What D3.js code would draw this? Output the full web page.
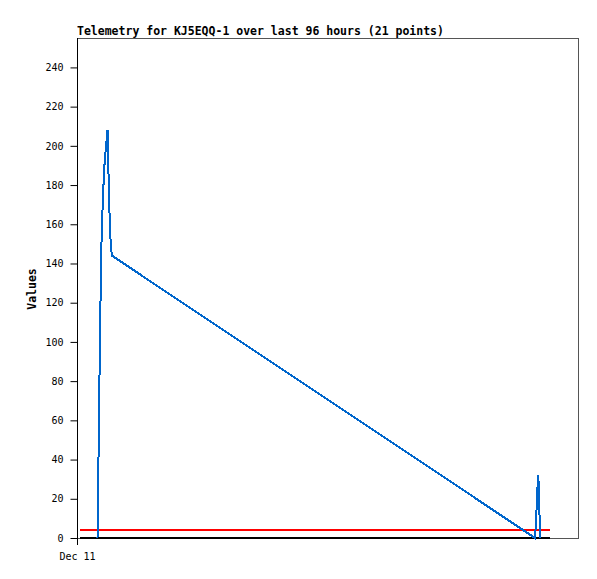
<!DOCTYPE html>
<html><head><meta charset="utf-8">
<script src="https://cdn.jsdelivr.net/npm/d3@7"></script>
<style>body{margin:0;background:#fff}svg{display:block}</style>
</head><body>
<script>
const title = "Telemetry for KJ5EQQ-1 over last 96 hours (21 points)";
const yLabel = "Values";
const startTime = new Date(2024, 11, 11, 0, 0);
const hoursSpan = 96;
// hours since start and values
const hours = [3.93, 4.02, 4.15, 4.3, 4.46, 4.62, 4.8, 5.0, 5.3, 5.85, 5.95, 6.1, 6.3, 6.5, 6.7, 87.76, 87.95, 88.2, 88.4, 88.62, 88.75];
const values = [0, 16, 48, 80, 112, 144, 160, 176, 192, 208, 200, 176, 160, 148, 144, 0, 8, 24, 32, 12, 0];
const thresholdHours = [0.6, 90.6];
const redLevel = 4;
const blackLevel = 0;
const yTicks = [0, 20, 40, 60, 80, 100, 120, 140, 160, 180, 200, 220, 240];
const yMax = 255;

const W = 597, H = 579;
const m = {left: 77, top: 38, right: 19, bottom: 41};
const svg = d3.select("body").append("svg").attr("width", W).attr("height", H);
const toDate = h => new Date(startTime.getTime() + h * 3600e3);
const x = d3.scaleTime().domain([startTime, toDate(hoursSpan)]).range([m.left, W - m.right]);
const y = d3.scaleLinear().domain([0, yMax]).range([H - m.bottom, m.top]);

// frame
svg.append("rect").attr("x", m.left + 0.5).attr("y", m.top + 0.5)
  .attr("width", W - m.right - m.left).attr("height", H - m.bottom - m.top)
  .attr("fill", "none").attr("stroke", "#555").attr("stroke-width", 1);

// thresholds
const thrLine = d3.line().x(d => x(toDate(d[0]))).y(d => y(d[1]));
svg.append("path").datum(thresholdHours.map(h => [h, blackLevel]))
  .attr("d", thrLine).attr("stroke", "#000").attr("stroke-width", 2).attr("fill", "none")
  .attr("shape-rendering", "crispEdges");
svg.append("path").datum(thresholdHours.map(h => [h, redLevel]))
  .attr("d", thrLine).attr("stroke", "#ff0000").attr("stroke-width", 2).attr("fill", "none")
  .attr("shape-rendering", "crispEdges");

// data
const pts = hours.map((h, i) => [h, values[i]]);
svg.append("path").datum(pts).attr("d", thrLine)
  .attr("stroke", "#0066cc").attr("stroke-width", 2).attr("fill", "none")
  .attr("stroke-linejoin", "miter").attr("shape-rendering", "crispEdges");

// y axis
const yAxis = svg.append("g").attr("transform", `translate(${m.left + 0.5},0)`)
  .call(d3.axisLeft(y).tickValues(yTicks).tickSize(7).tickPadding(7).tickFormat(d3.format("d")));
yAxis.select(".domain").attr("d", `M0,${m.top}V${H - m.bottom + 7}`).attr("stroke", "#000");
yAxis.selectAll("line").attr("stroke", "#000");
yAxis.selectAll("text").attr("font-family", "DejaVu Sans Mono").attr("font-size", 10).attr("fill", "#000");

// x axis
const xAxis = svg.append("g").attr("transform", `translate(0,${H - m.bottom + 0.5})`)
  .call(d3.axisBottom(x).tickValues([startTime]).tickSize(0).tickPadding(14).tickFormat(d3.timeFormat("%b %d")));
xAxis.select(".domain").remove();
xAxis.selectAll("text").attr("font-family", "DejaVu Sans Mono").attr("font-size", 10).attr("fill", "#000");

// title
svg.append("text").attr("x", m.left).attr("y", 35).text(title)
  .attr("font-family", "DejaVu Sans Mono").attr("font-weight", "bold").attr("font-size", 11.5).attr("fill", "#000");

// y label
svg.append("text").attr("transform", `translate(36,289) rotate(-90)`)
  .attr("text-anchor", "middle").text(yLabel)
  .attr("font-family", "DejaVu Sans Mono").attr("font-weight", "bold").attr("font-size", 11.5).attr("fill", "#000");
</script>
</body></html>
